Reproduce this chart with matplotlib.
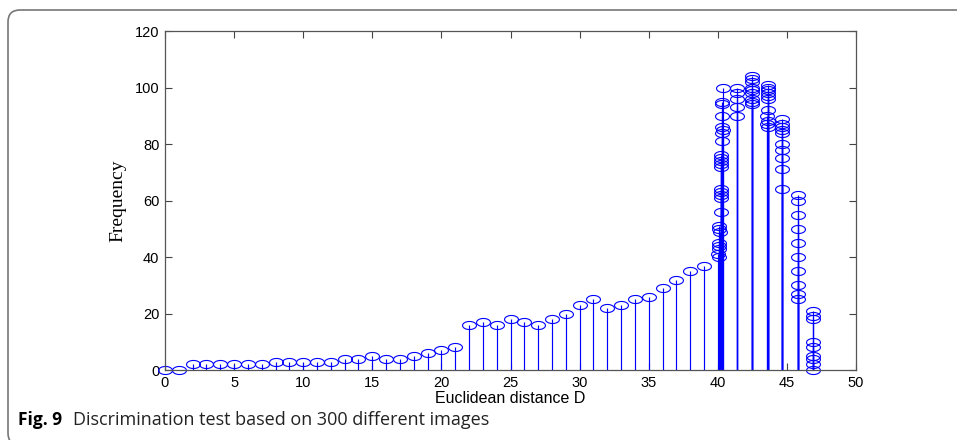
import numpy as np
import matplotlib.pyplot as plt
from matplotlib.path import Path
from matplotlib.patches import FancyBboxPatch


# 整数距离 0..39 的频数
d_int = list(range(40))
f_int = [0, 0, 2, 2, 2, 2, 2, 2, 3, 3, 3, 3, 3, 4, 4, 5, 4, 4, 5, 6,
         7, 8, 16, 17, 16, 18, 17, 16, 18, 20, 23, 25, 22, 23, 25, 26, 29, 32, 35, 37]

# 40 附近的密集簇
d_40 = [40.35, 40.3, 40.3, 40.3, 40.3, 40.4, 40.3, 40.3, 40.25, 40.2, 40.25, 40.2, 40.2,
        40.2, 40.25, 40.2, 40.2, 40.2, 40.1, 40.1, 40.15, 40.1, 40.05, 40.1, 40.0, 40.05]
f_40 = [100, 95, 94, 90, 86, 85, 84, 81, 76, 75, 74, 73, 72,
        64, 63, 62, 61, 56, 51, 50, 49, 45, 44, 43, 41, 40]

d_41 = [41.4, 41.4, 41.4, 41.4, 41.4]
f_41 = [100, 98, 96, 93, 90]

d_42 = [42.5, 42.5, 42.45, 42.5, 42.45, 42.5, 42.45, 42.5, 42.45]
f_42 = [104, 103, 102, 100, 99, 98, 96, 95, 94]

d_43 = [43.65, 43.6, 43.65, 43.6, 43.65, 43.6, 43.6, 43.55, 43.6, 43.55, 43.6]
f_43 = [101, 100, 99, 98, 97, 96, 92, 90, 88, 87, 86]

d_44 = [44.65] * 10
f_44 = [89, 87, 86, 85, 84, 80, 78, 75, 71, 64]

d_45 = [45.82] * 10
f_45 = [62, 60, 55, 50, 45, 40, 35, 30, 27, 25]

d_46 = [46.92] * 9
f_46 = [21, 19, 18, 10, 8, 5, 4, 2, 0]

x_ticks = [0, 5, 10, 15, 20, 25, 30, 35, 40, 45, 50]
y_ticks = [0, 20, 40, 60, 80, 100, 120]


if __name__ == '__main__':
    x = np.array(d_int + d_40 + d_41 + d_42 + d_43 + d_44 + d_45 + d_46, dtype=float)
    y = np.array(f_int + f_40 + f_41 + f_42 + f_43 + f_44 + f_45 + f_46, dtype=float)

    # 椭圆形标记（原图被横向拉伸）
    t = np.linspace(0, 2 * np.pi, 60)
    ellipse = Path(np.column_stack([np.cos(t), 0.58 * np.sin(t)]))

    fig = plt.figure(figsize=(9.57, 4.40), dpi=100)
    ax = fig.add_axes([0.1724, 0.159, 0.7221, 0.7705])

    markerline, stemlines, baseline = ax.stem(x, y, basefmt=' ')
    plt.setp(stemlines, color='#0000ff', linewidth=0.85)
    plt.setp(markerline, marker=ellipse, markersize=10, markerfacecolor='none',
             markeredgecolor='#0000ff', markeredgewidth=0.8, clip_on=False)

    ax.set_xlim(0, 50)
    ax.set_ylim(0, 120)
    ax.set_xticks(x_ticks)
    ax.set_yticks(y_ticks)
    ax.tick_params(direction='in', length=5, top=True, right=True, width=0.8,
                   color='#444444', labelsize=10.5, pad=4)
    for lab in ax.get_xticklabels() + ax.get_yticklabels():
        lab.set_family('Liberation Sans')
    for sp in ax.spines.values():
        sp.set_color('#555555')
        sp.set_linewidth(0.9)

    ax.set_ylabel('Frequency', family='Liberation Serif', fontsize=14)
    ax.yaxis.set_label_coords(-0.056, 0.5)
    ax.set_xlabel('Euclidean distance D', family='Liberation Sans', fontsize=11.5)
    ax.xaxis.set_label_coords(0.5, -0.063)

    # 外框与图注
    frame = FancyBboxPatch((0.08, -0.05), 9.8, 4.35,
                           boxstyle='round,pad=0,rounding_size=0.12',
                           transform=fig.dpi_scale_trans, facecolor='none',
                           edgecolor='#777777', linewidth=1.2)
    fig.patches.append(frame)
    fig.text(0.019, 0.035, 'Fig. 9', family='Open Sans', fontweight='bold', fontsize=12.5)
    fig.text(0.0765, 0.035, 'Discrimination test based on 300 different images',
             family='Open Sans', fontsize=13, color='#222222')

    fig.savefig('out.png', dpi=100)
